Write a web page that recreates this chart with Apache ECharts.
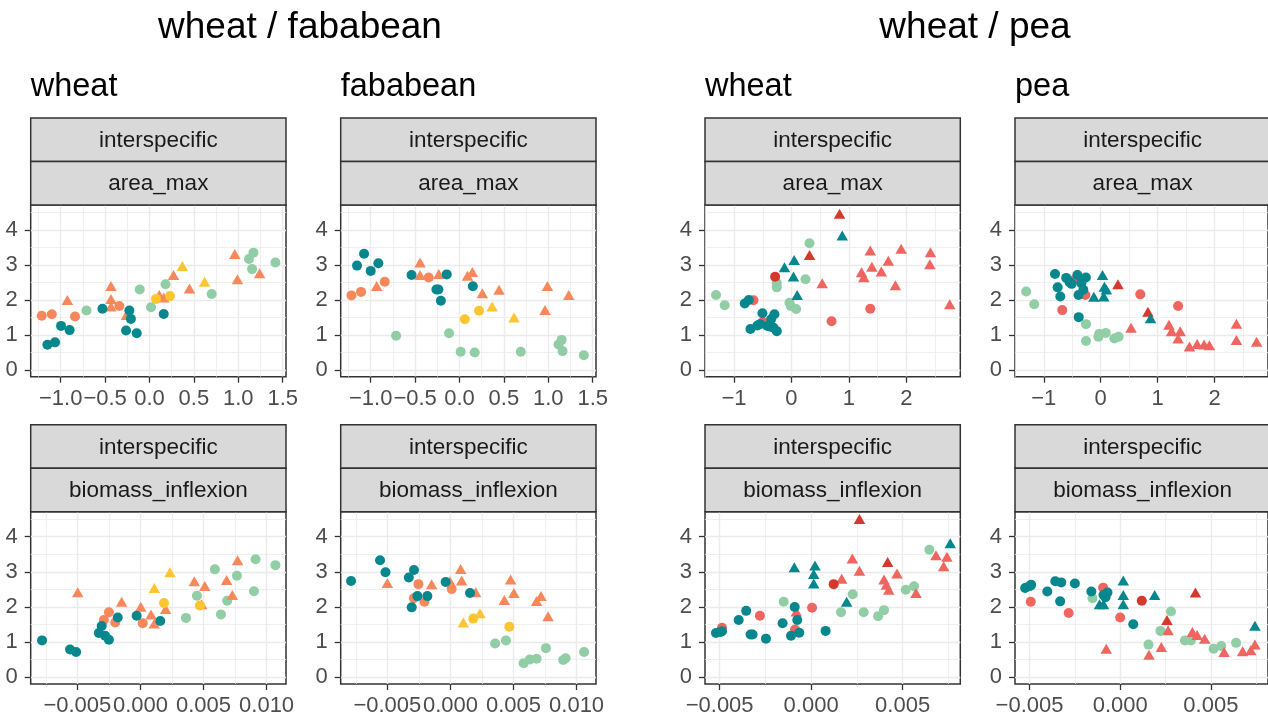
<!DOCTYPE html>
<html><head><meta charset="utf-8">
<style>html,body{margin:0;padding:0;background:#fff}#chart{width:1268px;height:721px}</style>
<script src="https://cdn.jsdelivr.net/npm/echarts@6.0.0/dist/echarts.min.js"></script>
</head><body><div id="chart"></div><script>
// ---- tick labels / breaks ----
const yTicks = [0, 1, 2, 3, 4];
const yMinor = [0.5, 1.5, 2.5, 3.5, 4.5];
const xTicksFabaArea = [-1.0, -0.5, 0.0, 0.5, 1.0, 1.5];
const xMinorFabaArea = [-1.25, -0.75, -0.25, 0.25, 0.75, 1.25];
const xTicksPeaArea = [-1, 0, 1, 2];
const xMinorPeaArea = [-1.5, -0.5, 0.5, 1.5, 2.5];
const xTicksFabaBio = [-0.005, 0.000, 0.005, 0.010];
const xMinorFabaBio = [-0.0075, -0.0025, 0.0025, 0.0075];
const xTicksPeaBio = [-0.005, 0.000, 0.005];
const xMinorPeaBio = [-0.0025, 0.0025, 0.0075];

// ---- wheat / fababean : wheat, area_max ----
const fwWheatArea_green = [[-0.71,1.70],[-0.11,2.30],[0.017,1.79],[0.18,2.45],[0.70,2.17],[1.12,3.17],[1.17,3.35],[1.155,2.88],[1.418,3.07]];
const fwWheatArea_orangeTri = [[-0.925,2.0],[-0.434,2.4],[-0.434,2.03],[-0.434,1.81],[-0.26,1.57],[0.11,2.14],[0.16,2.07],[0.27,2.71],[0.45,2.33],[0.96,3.31],[0.99,2.59],[1.24,2.76]];
const fwWheatArea_orange = [[-1.214,1.55],[-1.10,1.59],[-0.839,1.53],[-0.34,1.83]];
const fwWheatArea_yellowTri = [[0.37,2.97],[0.62,2.52]];
const fwWheatArea_yellow = [[0.074,2.03],[0.23,2.11]];
const fwWheatArea_teal = [[-1.15,0.72],[-1.064,0.79],[-0.996,1.26],[-0.90,1.14],[-0.53,1.75],[-0.227,1.70],[-0.21,1.46],[-0.264,1.13],[-0.144,1.05],[0.16,1.60]];

// ---- wheat / fababean : fababean, area_max ----
const fwFabaArea_green = [[-0.714,0.98],[-0.118,1.05],[0.013,0.52],[0.171,0.50],[0.69,0.52],[1.115,0.73],[1.15,0.86],[1.16,0.54],[1.40,0.42]];
const fwFabaArea_orangeTri = [[-0.933,2.40],[-0.444,3.07],[-0.444,2.71],[-0.233,2.74],[0.09,2.69],[0.145,2.80],[0.257,2.19],[0.445,2.29],[0.99,2.40],[0.963,1.71],[1.23,2.14]];
const fwFabaArea_orange = [[-1.217,2.13],[-1.109,2.23],[-0.842,2.52],[-0.347,2.64]];
const fwFabaArea_yellowTri = [[0.367,1.81],[0.614,1.50]];
const fwFabaArea_yellow = [[0.06,1.45],[0.22,1.69]];
const fwFabaArea_teal = [[-1.075,3.32],[-1.154,2.98],[-1.0,2.83],[-0.914,3.05],[-0.54,2.71],[-0.144,2.73],[-0.26,2.30],[-0.238,2.30],[-0.21,1.98],[0.15,2.39]];

// ---- wheat / pea : wheat, area_max ----
const wpWheatArea_green = [[-1.314,2.14],[-1.163,1.85],[0.314,3.62],[-0.256,2.48],[-0.256,2.36],[0.244,2.59],[-0.035,1.92],[-0.012,1.83],[0.081,1.74]];
const wpWheatArea_salmonTri = [[1.372,3.41],[1.91,3.46],[2.42,3.36],[1.686,3.12],[1.40,2.95],[1.22,2.79],[1.26,2.65],[1.564,2.81],[1.81,2.42],[2.41,3.02],[0.535,2.48],[2.756,1.88]];
const wpWheatArea_salmon = [[1.372,1.75],[0.698,1.39],[-0.663,1.99],[-0.5,1.37]];
const wpWheatArea_darkTri = [[0.837,4.46],[0.314,3.28]];
const wpWheatArea_dark = [[-0.285,2.66]];
const wpWheatArea_teal = [[-0.814,1.90],[-0.744,2.0],[-0.715,1.17],[-0.593,1.27],[-0.506,1.62],[-0.372,1.24],[-0.297,1.59],[-0.419,1.26],[-0.314,1.21],[-0.256,1.11],[-0.355,1.45],[-0.547,1.31]];
const wpWheatArea_tealTri = [[0.884,3.84],[0.047,3.14],[-0.122,2.93],[0.035,2.67],[0.099,2.14]];

// ---- wheat / pea : pea, area_max ----
const wpPeaArea_green = [[-1.31,2.24],[-1.168,1.88],[-0.258,1.31],[-0.258,0.83],[-0.04,0.95],[-0.028,1.03],[0.089,1.06],[0.24,0.90],[0.314,0.95]];
const wpPeaArea_salmonTri = [[0.533,1.21],[1.2,1.29],[1.246,1.11],[1.397,1.11],[1.36,0.90],[1.56,0.67],[1.695,0.74],[1.817,0.73],[1.91,0.71],[2.385,1.32],[2.385,0.86],[2.74,0.81]];
const wpPeaArea_salmon = [[-0.676,1.71],[-0.467,2.57],[-0.27,2.14],[0.696,2.16],[1.36,1.83]];
const wpPeaArea_darkTri = [[0.303,2.45],[0.83,1.66]];
const wpPeaArea_dark = [];
const wpPeaArea_teal = [[-0.803,2.74],[-0.756,2.36],[-0.71,2.10],[-0.606,2.63],[-0.548,2.51],[-0.51,2.46],[-0.41,2.71],[-0.34,2.48],[-0.39,2.14],[-0.26,2.64],[-0.305,2.29],[-0.386,1.51]];
const wpPeaArea_tealTri = [[0.032,2.71],[0.065,2.38],[0.10,2.30],[-0.12,2.09],[0.054,2.10],[0.876,1.48]];

// ---- wheat / fababean : wheat, biomass_inflexion ----
const fwWheatBio_green = [[0.00361,1.69],[0.00448,2.32],[0.0059,3.07],[0.00638,1.79],[0.00688,2.18],[0.00765,2.89],[0.009,2.45],[0.00913,3.36],[0.0107,3.19]];
const fwWheatBio_orangeTri = [[-0.00497,2.42],[-0.00149,2.15],[0.00002,2.01],[0.00084,1.79],[0.0011,1.53],[0.002,1.94],[0.00427,2.73],[0.0051,2.60],[0.00485,2.08],[0.00683,2.77],[0.00728,2.34],[0.0077,3.33]];
const fwWheatBio_orange = [[-0.0025,1.85],[-0.0029,1.63],[-0.002,1.56],[0.00018,1.54]];
const fwWheatBio_yellowTri = [[0.00234,2.99],[0.0011,2.54]];
const fwWheatBio_yellow = [[0.00187,2.11],[0.00472,2.04]];
const fwWheatBio_teal = [[-0.0078,1.05],[-0.00558,0.79],[-0.0051,0.72],[-0.00307,1.46],[-0.0033,1.26],[-0.0028,1.18],[-0.0025,1.07],[-0.0018,1.70],[-0.0003,1.75],[0.00157,1.60]];

// ---- wheat / fababean : fababean, biomass_inflexion ----
const fwFabaBio_green = [[0.00354,0.96],[0.0044,1.05],[0.0058,0.40],[0.0063,0.51],[0.00683,0.53],[0.00757,0.83],[0.00894,0.49],[0.00913,0.54],[0.0106,0.72]];
const fwFabaBio_orangeTri = [[-0.005,2.68],[-0.00149,2.65],[-0.00004,2.73],[0.00081,3.08],[0.00089,2.75],[0.002,2.42],[0.00427,2.20],[0.00477,2.78],[0.00503,2.40],[0.00683,2.17],[0.00718,2.31],[0.00774,1.74]];
const fwFabaBio_orange = [[-0.00254,2.65],[-0.0029,2.25],[-0.00206,2.15],[0.0001,2.51]];
const fwFabaBio_yellowTri = [[0.00102,1.56],[0.00234,1.82]];
const fwFabaBio_yellow = [[0.00181,1.67],[0.00467,1.44]];
const fwFabaBio_teal = [[-0.00788,2.74],[-0.00558,3.33],[-0.00515,2.99],[-0.0033,2.84],[-0.00289,3.05],[-0.00307,1.99],[-0.00262,2.31],[-0.00183,2.31],[-0.00038,2.71],[0.00155,2.40]];

// ---- wheat / pea : wheat, biomass_inflexion ----
const wpWheatBio_green = [[-0.0015,2.15],[0.00163,1.85],[0.00227,2.36],[0.00287,1.85],[0.00366,1.74],[0.00398,1.91],[0.00517,2.49],[0.00562,2.59],[0.00646,3.63]];
const wpWheatBio_salmonTri = [[-0.00081,1.87],[0.00167,2.80],[0.00225,3.38],[0.00264,3.03],[0.00398,2.78],[0.00411,2.63],[0.00424,2.49],[0.00469,2.95],[0.00573,2.40],[0.00682,3.47],[0.00742,3.43],[0.00724,3.16]];
const wpWheatBio_salmon = [[-0.00487,1.41],[-0.0028,1.75],[-0.00088,1.36],[0.00005,1.98]];
const wpWheatBio_darkTri = [[0.00264,4.50],[0.00418,3.28]];
const wpWheatBio_dark = [[0.00123,2.65]];
const wpWheatBio_teal = [[-0.0052,1.26],[-0.00496,1.29],[-0.00487,1.31],[-0.00396,1.63],[-0.00355,1.89],[-0.00331,1.22],[-0.0032,1.22],[-0.00247,1.10],[-0.00156,1.54],[-0.0011,1.18],[-0.0009,2.0],[-0.00076,1.63],[-0.00065,1.27],[0.00079,1.32]];
const wpWheatBio_tealTri = [[-0.00092,3.13],[0.00021,3.18],[0.00014,2.94],[0.00014,2.67],[0.00194,2.15],[0.0076,3.81]];

// ---- wheat / pea : pea, biomass_inflexion ----
const wpPeaBio_green = [[-0.00153,2.25],[0.00156,0.93],[0.00222,1.32],[0.0028,1.87],[0.00357,1.05],[0.0039,1.05],[0.00515,0.81],[0.00557,0.89],[0.00639,0.98]];
const wpPeaBio_salmonTri = [[-0.00077,0.81],[0.00159,0.64],[0.00227,0.86],[0.00264,1.34],[0.00398,1.29],[0.00424,1.20],[0.00466,1.10],[0.00573,0.72],[0.00675,0.74],[0.0072,0.77],[0.00743,0.93]];
const wpPeaBio_salmon = [[-0.00493,2.15],[-0.00284,1.83],[-0.00094,2.55],[0,1.70]];
const wpPeaBio_darkTri = [[0.00258,1.63],[0.00415,2.41]];
const wpPeaBio_dark = [[0.00119,2.18]];
const wpPeaBio_teal = [[-0.00524,2.54],[-0.00497,2.6],[-0.00491,2.63],[-0.00402,2.44],[-0.00358,2.73],[-0.00325,2.70],[-0.00331,2.16],[-0.0025,2.67],[-0.00159,2.44],[-0.00092,2.34],[-0.00081,2.28],[-0.0007,2.41],[0.00072,1.51]];
const wpPeaBio_tealTri = [[0.00017,2.75],[0.00017,2.34],[0.00017,2.08],[-0.00114,2.08],[-0.00092,2.08],[0.0019,2.34],[0.00743,1.47]];

// ---- styling ----
const FONT = '"Liberation Sans", Arial, Helvetica, sans-serif';
const COL = {teal:'#05878d', orange:'#f7885b', yellow:'#fdc530', green:'#91cda5', salmon:'#ef655f', dark:'#d5392c'};
const AXIS_TXT = 22;
const STRIP_TXT = 22.5;

function fmt(dec) {
  return v => (v < 0 ? '\u2212' : '') + Math.abs(v).toFixed(dec);
}

// layers in drawing order for each pair of panels
function fabaLayers(g, o, ot, y, yt, t) {
  return [[g,'green','circle'],[ot,'orange','triangle'],[o,'orange','circle'],[yt,'yellow','triangle'],[y,'yellow','circle'],[t,'teal','circle']];
}
function peaLayers(g, st, s, dt, d, t, tt) {
  return [[g,'green','circle'],[st,'salmon','triangle'],[s,'salmon','circle'],[dt,'dark','triangle'],[d,'dark','circle'],[t,'teal','circle'],[tt,'teal','triangle']];
}

const TOP1 = 205, H1 = 171.7, TOP2 = 511.7, H2 = 172.3, W = 255.3;
const panels = [
  {left:30.7, top:TOP1, h:H1, xr:[-1.338,1.537], xt:xTicksFabaArea, xm:xMinorFabaArea, dec:1, strip:'area_max',
   layers:fabaLayers(fwWheatArea_green,fwWheatArea_orange,fwWheatArea_orangeTri,fwWheatArea_yellow,fwWheatArea_yellowTri,fwWheatArea_teal)},
  {left:340.7, top:TOP1, h:H1, xr:[-1.338,1.537], xt:xTicksFabaArea, xm:xMinorFabaArea, dec:1, strip:'area_max',
   layers:fabaLayers(fwFabaArea_green,fwFabaArea_orange,fwFabaArea_orangeTri,fwFabaArea_yellow,fwFabaArea_yellowTri,fwFabaArea_teal)},
  {left:705, top:TOP1, h:H1, xr:[-1.506,2.94], xt:xTicksPeaArea, xm:xMinorPeaArea, dec:0, strip:'area_max',
   layers:peaLayers(wpWheatArea_green,wpWheatArea_salmonTri,wpWheatArea_salmon,wpWheatArea_darkTri,wpWheatArea_dark,wpWheatArea_teal,wpWheatArea_tealTri)},
  {left:1015, top:TOP1, h:H1, xr:[-1.506,2.94], xt:xTicksPeaArea, xm:xMinorPeaArea, dec:0, strip:'area_max',
   layers:peaLayers(wpPeaArea_green,wpPeaArea_salmonTri,wpPeaArea_salmon,wpPeaArea_darkTri,wpPeaArea_dark,wpPeaArea_teal,wpPeaArea_tealTri)},
  {left:30.7, top:TOP2, h:H2, xr:[-0.0087,0.01154], xt:xTicksFabaBio, xm:xMinorFabaBio, dec:3, strip:'biomass_inflexion',
   layers:fabaLayers(fwWheatBio_green,fwWheatBio_orange,fwWheatBio_orangeTri,fwWheatBio_yellow,fwWheatBio_yellowTri,fwWheatBio_teal)},
  {left:340.7, top:TOP2, h:H2, xr:[-0.0087,0.01154], xt:xTicksFabaBio, xm:xMinorFabaBio, dec:3, strip:'biomass_inflexion',
   layers:fabaLayers(fwFabaBio_green,fwFabaBio_orange,fwFabaBio_orangeTri,fwFabaBio_yellow,fwFabaBio_yellowTri,fwFabaBio_teal)},
  {left:705, top:TOP2, h:H2, xr:[-0.0058,0.00815], xt:xTicksPeaBio, xm:xMinorPeaBio, dec:3, strip:'biomass_inflexion',
   layers:peaLayers(wpWheatBio_green,wpWheatBio_salmonTri,wpWheatBio_salmon,wpWheatBio_darkTri,wpWheatBio_dark,wpWheatBio_teal,wpWheatBio_tealTri)},
  {left:1015, top:TOP2, h:H2, xr:[-0.0058,0.00815], xt:xTicksPeaBio, xm:xMinorPeaBio, dec:3, strip:'biomass_inflexion',
   layers:peaLayers(wpPeaBio_green,wpPeaBio_salmonTri,wpPeaBio_salmon,wpPeaBio_darkTri,wpPeaBio_dark,wpPeaBio_teal,wpPeaBio_tealTri)}
];

const grid = [], xAxis = [], yAxis = [], series = [], graphic = [];
const tickStyle = {color:'#333333', width:1.3};
const majorGrid = {color:'#ebebeb', width:1.4};
const minorGrid = {color:'#ebebeb', width:0.8};
const STRIP = 43.5;
const hiddenLine = {show:false, onZero:false};

panels.forEach((p, i) => {
  grid.push({left:p.left, top:p.top, width:W, height:p.h, show:true, borderColor:'#333333', borderWidth:1.5, backgroundColor:'#ffffff'});
  // major x axis with labels
  xAxis.push({type:'value', gridIndex:i, min:p.xr[0], max:p.xr[1], position:'bottom',
    axisLine:hiddenLine,
    axisTick:{show:true, customValues:p.xt, length:6, lineStyle:tickStyle},
    axisLabel:{customValues:p.xt, formatter:fmt(p.dec), margin:11, color:'#4d4d4d', fontSize:AXIS_TXT, fontFamily:FONT},
    splitLine:{show:true, lineStyle:majorGrid}});
  // minor x grid lines
  xAxis.push({type:'value', gridIndex:i, min:p.xr[0], max:p.xr[1], position:'top',
    axisLine:hiddenLine, axisTick:{show:false, customValues:p.xm}, axisLabel:{show:false},
    splitLine:{show:true, lineStyle:minorGrid}});
  yAxis.push({type:'value', gridIndex:i, min:-0.19, max:4.71, position:'left',
    axisLine:hiddenLine,
    axisTick:{show:true, customValues:yTicks, length:6, lineStyle:tickStyle},
    axisLabel:{customValues:yTicks, formatter:fmt(0), margin:13, color:'#4d4d4d', fontSize:AXIS_TXT, fontFamily:FONT},
    splitLine:{show:true, lineStyle:majorGrid}});
  yAxis.push({type:'value', gridIndex:i, min:-0.19, max:4.71, position:'right',
    axisLine:hiddenLine, axisTick:{show:false, customValues:yMinor}, axisLabel:{show:false},
    splitLine:{show:true, lineStyle:minorGrid}});
  p.layers.forEach(([data, col, shape]) => {
    series.push({type:'scatter', xAxisIndex:2*i, yAxisIndex:2*i, data:data,
      symbol:shape, symbolSize: shape === 'triangle' ? [11.5,10] : 10,
      itemStyle:{color:COL[col], opacity:1}, silent:true});
  });
  // facet strips
  [['interspecific', p.top - 2*STRIP], [p.strip, p.top - STRIP]].forEach(([label, y]) => {
    graphic.push({type:'rect', shape:{x:p.left, y:y, width:W, height:STRIP},
      style:{fill:'#d9d9d9', stroke:'#333333', lineWidth:1.5}, z:10});
    graphic.push({type:'text', x:p.left + W/2, y:y + STRIP/2 + 1,
      style:{text:label, font:STRIP_TXT + 'px ' + FONT, fill:'#1a1a1a', align:'center', verticalAlign:'middle'}, z:11});
  });
});

// titles
[['wheat / fababean', 300, 28, 37], ['wheat / pea', 975, 28, 37]].forEach(([t, x, y, s]) => {
  graphic.push({type:'text', x:x, y:y, style:{text:t, font:s + 'px ' + FONT, fill:'#000', align:'center', verticalAlign:'middle'}, z:11});
});
[['wheat', 30.7], ['fababean', 340.7], ['wheat', 705], ['pea', 1015]].forEach(([t, x]) => {
  graphic.push({type:'text', x:x, y:87, style:{text:t, font:'32.5px ' + FONT, fill:'#000', align:'left', verticalAlign:'middle'}, z:11});
});

const chart = echarts.init(document.getElementById('chart'), null, {renderer:'canvas'});
chart.setOption({animation:false, backgroundColor:'#ffffff', grid, xAxis, yAxis, series, graphic});
</script></body></html>
